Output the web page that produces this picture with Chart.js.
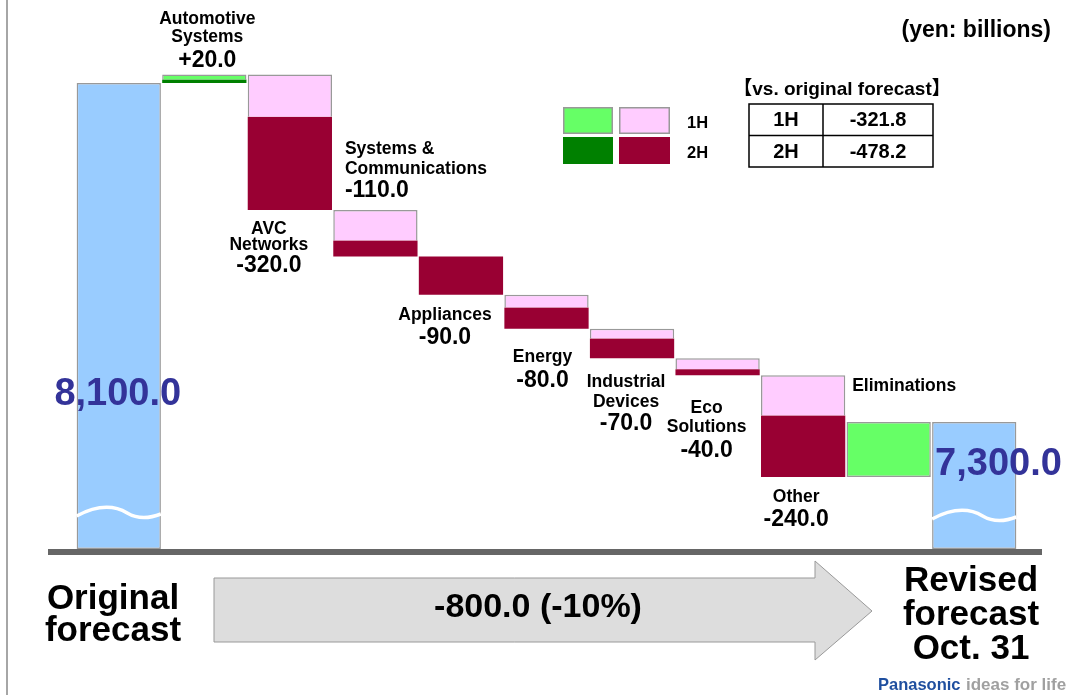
<!DOCTYPE html>
<html>
<head>
<meta charset="utf-8">
<title>Net sales forecast revision by segment</title>
<script src="https://cdn.jsdelivr.net/npm/chart.js@4/dist/chart.umd.min.js"></script>
<style>
  html, body { margin: 0; padding: 0; background: #ffffff; }
  #wrap { position: relative; width: 1075px; height: 695px; }
  canvas { display: block; }
</style>
</head>
<body>
<div id="wrap"><canvas id="chart" width="1075" height="695"></canvas></div>
<script>
// ---- data (yen: billions) ----
const categories = [
  'Original\nforecast', 'Automotive\nSystems', 'AVC\nNetworks', 'Systems &\nCommunications',
  'Appliances', 'Energy', 'Industrial\nDevices', 'Eco\nSolutions', 'Other', 'Eliminations',
  'Revised\nforecast\nOct. 31'
];
const originalForecast = 8100.0;
const revisedForecast = 7300.0;
// change of each segment split into first half (1H) and second half (2H)
const change1H = [null, 12, -100, -72, 0, -30, -23, -26, -95, 130, null];
const change2H = [null, 8, -220, -38, -90, -50, -47, -14, -145, 0, null];
const summaryHalves = ['1H', '2H'];
const summaryValues = [-321.8, -478.2];
const axisBreakBase = 7000;   // bottom of the broken value axis
const axisTop = 8272;

// ---- colours ----
const COL = {
  total: '#99ccff', border: '#999999',
  pos1H: '#66ff66', pos2H: '#008000',
  neg1H: '#ffccff', neg2H: '#990033',
  totalText: '#333399'
};
const FONT = '"Liberation Sans", Arial, "Noto Sans CJK JP", sans-serif';

// ---- build floating ranges for the waterfall ----
const totalRanges = categories.map(() => null);
totalRanges[0] = [axisBreakBase, originalForecast];
totalRanges[categories.length - 1] = [axisBreakBase, revisedForecast];
const ranges1H = categories.map(() => null);
const ranges2H = categories.map(() => null);
const segmentSpan = categories.map(() => null);
let level = originalForecast;
for (let i = 1; i < categories.length - 1; i++) {
  const a = change1H[i] || 0, b = change2H[i] || 0;
  const next = level + a + b;
  const lo = Math.min(level, next), hi = Math.max(level, next);
  const mid = lo + Math.abs(b);
  ranges2H[i] = b !== 0 ? [lo, mid] : null;
  ranges1H[i] = a !== 0 ? [mid, hi] : null;
  segmentSpan[i] = { lo, hi, sum: a + b };
  level = next;
}
const signOf = i => (segmentSpan[i] && segmentSpan[i].sum > 0);

function fmt(v, withSign) {
  const s = Math.abs(v).toLocaleString('en-US', { minimumFractionDigits: 1, maximumFractionDigits: 1 });
  if (v < 0) return '-' + s;
  return (withSign ? '+' : '') + s;
}

// label placement around each segment bar (pixel offsets from the bar)
const LABEL_LAYOUT = {
  1: { edge: 'top', dx: 3, align: 'center', lines: [-55.5, -37], value: -13.5 },
  2: { edge: 'bottom', dx: -21, align: 'center', lines: [19.5, 35.5], value: 56 },
  3: { edge: 'top', dx: -30.5, align: 'left', lines: [-61, -41], value: -19 },
  4: { edge: 'bottom', dx: -16, align: 'center', lines: [20], value: 42.5 },
  5: { edge: 'bottom', dx: -4, align: 'center', lines: [28.5], value: 52 },
  6: { edge: 'bottom', dx: -6, align: 'center', lines: [23.5, 43.5], value: 65.5 },
  7: { edge: 'bottom', dx: -11, align: 'center', lines: [33, 52], value: 75 },
  8: { edge: 'bottom', dx: -7, align: 'center', lines: [20], value: 43 },
  9: { edge: 'top', dx: -36.5, align: 'left', lines: [-36], value: null }
};

const decorations = {
  id: 'decorations',
  afterDatasetsDraw(chart) {
    const ctx = chart.ctx;
    const xs = chart.scales.x, ys = chart.scales.y;
    const barW = chart.getDatasetMeta(2).data[0].width;
    const last = categories.length - 1;
    const baseY = ys.getPixelForValue(axisBreakBase);

    ctx.save();
    // left frame line
    ctx.strokeStyle = '#888888';
    ctx.lineWidth = 1.5;
    ctx.beginPath(); ctx.moveTo(7, 0); ctx.lineTo(7, 695); ctx.stroke();

    // axis-break waves on the two total bars
    [0, last].forEach((i, k) => {
      const x0 = xs.getPixelForValue(i) - barW / 2, w = barW;
      const yb = baseY - 35 + k * 3;
      ctx.strokeStyle = '#ffffff';
      ctx.lineWidth = 3.5;
      ctx.beginPath();
      ctx.moveTo(x0, yb + 2);
      ctx.bezierCurveTo(x0 + w * 0.2, yb - 7, x0 + w * 0.4, yb - 11, x0 + w * 0.6, yb - 1);
      ctx.bezierCurveTo(x0 + w * 0.74, yb + 6, x0 + w * 0.88, yb + 4, x0 + w, yb);
      ctx.stroke();
    });

    // baseline
    ctx.fillStyle = '#666666';
    ctx.fillRect(48, baseY, 994, 6);

    // segment labels
    ctx.fillStyle = '#000000';
    ctx.textBaseline = 'middle';
    for (let i = 1; i < last; i++) {
      const L = LABEL_LAYOUT[i];
      const span = segmentSpan[i];
      const ey = ys.getPixelForValue(L.edge === 'top' ? span.hi : span.lo);
      const x = xs.getPixelForValue(i) + L.dx;
      ctx.textAlign = L.align;
      ctx.font = 'bold 17.5px ' + FONT;
      categories[i].split('\n').forEach((t, j) => ctx.fillText(t, x, ey + L.lines[j]));
      if (L.value !== null) {
        ctx.font = 'bold 23px ' + FONT;
        ctx.fillText(fmt(span.sum, true), x, ey + L.value);
      }
    }

    // total values on the blue bars
    ctx.fillStyle = COL.totalText;
    ctx.font = 'bold 38px ' + FONT;
    ctx.textAlign = 'center';
    ctx.fillText(fmt(originalForecast), xs.getPixelForValue(0) - 1, ys.getPixelForValue(originalForecast) + 312);
    ctx.textAlign = 'left';
    ctx.fillText(fmt(revisedForecast), xs.getPixelForValue(last) - barW / 2 + 3, ys.getPixelForValue(revisedForecast) + 43);

    // unit note
    ctx.fillStyle = '#000000';
    ctx.textAlign = 'right';
    ctx.font = 'bold 23px ' + FONT;
    ctx.fillText('(yen: billions)', 1051, 31);

    // colour key
    const keys = [[COL.pos1H, COL.neg1H, summaryHalves[0]], [COL.pos2H, COL.neg2H, summaryHalves[1]]];
    keys.forEach((k, r) => {
      const top = 107 + r * 30;
      ctx.fillStyle = k[0]; ctx.fillRect(563, top, 50, 27);
      ctx.fillStyle = k[1]; ctx.fillRect(619, top, 51, 27);
      if (r === 0) {
        ctx.strokeStyle = COL.border; ctx.lineWidth = 1.5;
        ctx.strokeRect(563.75, top + 0.75, 48.5, 25.5);
        ctx.strokeRect(619.75, top + 0.75, 49.5, 25.5);
      }
      ctx.fillStyle = '#000000';
      ctx.textAlign = 'left';
      ctx.font = 'bold 16.5px ' + FONT;
      ctx.fillText(k[2], 687, top + 16);
    });

    // summary table
    ctx.textAlign = 'center';
    ctx.font = 'bold 19px ' + FONT;
    ctx.fillText('【vs. original forecast】', 842, 90);
    const tx0 = 749, tx1 = 823, tx2 = 933, ty = [104, 135.5, 167];
    ctx.strokeStyle = '#000000'; ctx.lineWidth = 1.5;
    ctx.strokeRect(tx0, ty[0], tx2 - tx0, ty[2] - ty[0]);
    ctx.beginPath();
    ctx.moveTo(tx1, ty[0]); ctx.lineTo(tx1, ty[2]);
    ctx.moveTo(tx0, ty[1]); ctx.lineTo(tx2, ty[1]);
    ctx.stroke();
    ctx.font = 'bold 20px ' + FONT;
    summaryHalves.forEach((h, r) => {
      const cy = (ty[r] + ty[r + 1]) / 2 + 1;
      ctx.fillText(h, (tx0 + tx1) / 2, cy);
      ctx.fillText(fmt(summaryValues[r]), (tx1 + tx2) / 2, cy);
    });

    // change arrow
    ctx.fillStyle = '#dddddd';
    ctx.strokeStyle = '#999999';
    ctx.lineWidth = 1;
    ctx.beginPath();
    ctx.moveTo(214, 578); ctx.lineTo(815, 578); ctx.lineTo(815, 561);
    ctx.lineTo(872, 611); ctx.lineTo(815, 660); ctx.lineTo(815, 642);
    ctx.lineTo(214, 642); ctx.closePath();
    ctx.fill(); ctx.stroke();

    const diff = revisedForecast - originalForecast;
    const pct = Math.round(diff / originalForecast * 100);
    ctx.fillStyle = '#000000';
    ctx.textAlign = 'center';
    ctx.font = 'bold 34px ' + FONT;
    ctx.fillText(fmt(diff) + ' (' + pct + '%)', 538, 608);

    // end captions
    ctx.font = 'bold 35px ' + FONT;
    ctx.textBaseline = 'alphabetic';
    categories[0].split('\n').forEach((t, j) => ctx.fillText(t, 113, 609 + j * 32));
    categories[last].split('\n').forEach((t, j) => ctx.fillText(t, 971, 591 + j * 34));

    // brand line
    ctx.textAlign = 'left';
    ctx.font = 'bold 16.5px ' + FONT;
    ctx.fillStyle = '#1f4f9f';
    ctx.fillText('Panasonic', 878, 690);
    ctx.font = 'bold 17px ' + FONT;
    ctx.fillStyle = '#a0a0a0';
    ctx.fillText('ideas for life', 966, 690);
    ctx.restore();
  }
};

new Chart(document.getElementById('chart'), {
  type: 'bar',
  data: {
    labels: categories,
    datasets: [
      {
        label: '1H',
        data: ranges1H,
        backgroundColor: ctx => signOf(ctx.dataIndex) ? COL.pos1H : COL.neg1H,
        borderColor: COL.border,
        borderWidth: 1.5,
        // the edge touching the 2H block is left open
        borderSkipped: ctx => ranges2H[ctx.dataIndex] ? 'bottom' : false
      },
      {
        label: '2H',
        data: ranges2H,
        backgroundColor: ctx => signOf(ctx.dataIndex) ? COL.pos2H : COL.neg2H,
        borderWidth: 0
      },
      {
        label: 'Net sales',
        data: totalRanges,
        backgroundColor: COL.total,
        borderColor: COL.border,
        borderWidth: 1.5,
        borderSkipped: false
      }
    ]
  },
  options: {
    responsive: false,
    animation: false,
    events: [],
    layout: { padding: { top: 10, bottom: 146, left: 76, right: 58 } },
    datasets: { bar: { grouped: false, categoryPercentage: 1, barPercentage: 0.985 } },
    scales: {
      x: { display: false },
      y: { display: false, min: axisBreakBase, max: axisTop }
    },
    plugins: { legend: { display: false }, tooltip: { enabled: false } }
  },
  plugins: [decorations]
});
</script>
</body>
</html>
